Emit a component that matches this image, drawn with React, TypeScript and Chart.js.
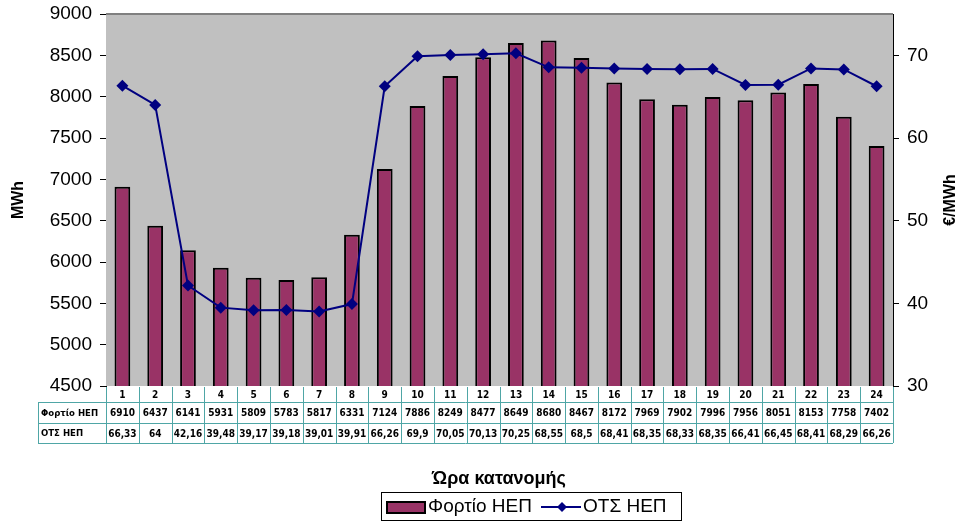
import React, { useEffect, useRef } from "react";
import { Chart, registerables } from "chart.js";

Chart.register(...registerables);

const hours = ["1","2","3","4","5","6","7","8","9","10","11","12","13","14","15","16","17","18","19","20","21","22","23","24"];
const loadMWh = [6910,6437,6141,5931,5809,5783,5817,6331,7124,7886,8249,8477,8649,8680,8467,8172,7969,7902,7996,7956,8051,8153,7758,7402];
const priceEur = [66.33,64,42.16,39.48,39.17,39.18,39.01,39.91,66.26,69.9,70.05,70.13,70.25,68.55,68.5,68.41,68.35,68.33,68.35,66.41,66.45,68.41,68.29,66.26];
const priceLabels = ["66,33","64","42,16","39,48","39,17","39,18","39,01","39,91","66,26","69,9","70,05","70,13","70,25","68,55","68,5","68,41","68,35","68,33","68,35","66,41","66,45","68,41","68,29","66,26"];
const loadName = "Φορτίο ΗΕΠ";
const priceName = "ΟΤΣ ΗΕΠ";
const leftTitle = "MWh";
const rightTitle = "€/MWh";
const xTitle = "Ώρα κατανομής";

const BAR_COLOR = "#993366";
const LINE_COLOR = "#000080";
const TABLE_BORDER = "#4fa6a6";
const TABLE_FONT = "'DejaVu Sans Condensed', 'DejaVu Sans'";

function drawDiamond(ctx: CanvasRenderingContext2D, x: number, y: number, r: number) {
  ctx.beginPath();
  ctx.moveTo(x, y - r);
  ctx.lineTo(x + r, y);
  ctx.lineTo(x, y + r);
  ctx.lineTo(x - r, y);
  ctx.closePath();
  ctx.fill();
}

const overlayPlugin = {
  id: "overlay",
  afterDraw(chart: any) {
    const ctx: CanvasRenderingContext2D = chart.ctx;
    const area = chart.chartArea;
    const xs = chart.scales.x;
    const colW = (area.right - area.left) / hours.length;
    const labelLeft = 38;
    const r0 = Math.round(area.bottom) + 1;
    const r1 = r0 + 15;
    const r2 = r1 + 21;
    const r3 = r2 + 20;
    ctx.save();
    ctx.strokeStyle = TABLE_BORDER;
    ctx.lineWidth = 1;
    ctx.beginPath();
    ctx.moveTo(labelLeft, r1 + 0.5); ctx.lineTo(area.right, r1 + 0.5);
    ctx.moveTo(labelLeft, r2 + 0.5); ctx.lineTo(area.right, r2 + 0.5);
    ctx.moveTo(labelLeft, r3 + 0.5); ctx.lineTo(area.right, r3 + 0.5);
    ctx.moveTo(labelLeft + 0.5, r1); ctx.lineTo(labelLeft + 0.5, r3);
    for (let i = 0; i <= hours.length; i++) {
      const x = Math.round(area.left + i * colW) + 0.5;
      ctx.moveTo(x, r0); ctx.lineTo(x, r3);
    }
    ctx.stroke();
    ctx.fillStyle = "#000";
    ctx.font = "bold 10px " + TABLE_FONT;
    ctx.textBaseline = "middle";
    ctx.textAlign = "center";
    for (let i = 0; i < hours.length; i++) {
      const cx = xs.getPixelForValue(i);
      ctx.fillText(hours[i], cx, (r0 + r1) / 2 + 1);
      ctx.fillText(String(loadMWh[i]), cx, (r1 + r2) / 2 + 1);
      ctx.fillText(priceLabels[i], cx, (r2 + r3) / 2 + 1);
    }
    ctx.textAlign = "left";
    ctx.font = "bold 9.5px " + TABLE_FONT;
    ctx.fillText(loadName, labelLeft + 3, (r1 + r2) / 2 + 1);
    ctx.fillText(priceName, labelLeft + 3, (r2 + r3) / 2 + 1);

    ctx.font = "bold 16px 'Liberation Sans'";
    ctx.textAlign = "center";
    ctx.save();
    ctx.translate(19, (area.top + area.bottom) / 2);
    ctx.rotate(-Math.PI / 2);
    ctx.fillText(leftTitle, 0, 0);
    ctx.restore();
    ctx.save();
    ctx.translate(951, (area.top + area.bottom) / 2);
    ctx.rotate(-Math.PI / 2);
    ctx.fillText(rightTitle, 0, 0);
    ctx.restore();

    ctx.font = "bold 18px 'Liberation Sans'";
    ctx.fillText(xTitle, 499, 479);

    // legend
    const lx = 381, ly = 492, lw = 300, lh = 28;
    ctx.strokeStyle = "#000";
    ctx.lineWidth = 1;
    ctx.strokeRect(lx + 0.5, ly + 0.5, lw, lh);
    ctx.fillStyle = BAR_COLOR;
    ctx.fillRect(387, 502, 38, 11);
    ctx.lineWidth = 2;
    ctx.strokeRect(387, 502, 38, 11);
    ctx.fillStyle = "#000";
    ctx.font = "19px 'Liberation Sans'";
    ctx.textAlign = "left";
    ctx.textBaseline = "middle";
    ctx.fillText(loadName, 428, 507);
    ctx.strokeStyle = LINE_COLOR;
    ctx.lineWidth = 2;
    ctx.beginPath();
    ctx.moveTo(541, 507); ctx.lineTo(581, 507);
    ctx.stroke();
    ctx.fillStyle = LINE_COLOR;
    drawDiamond(ctx, 562, 507, 5);
    ctx.fillStyle = "#000";
    ctx.fillText(priceName, 583, 507);
    ctx.restore();
  },
  beforeDatasetsDraw(chart: any) {
    const ctx = chart.ctx;
    const a = chart.chartArea;
    ctx.save();
    ctx.fillStyle = "#c0c0c0";
    ctx.fillRect(a.left, a.top, a.right - a.left, a.bottom - a.top);
    ctx.strokeStyle = "#808080";
    ctx.lineWidth = 2;
    ctx.beginPath();
    ctx.moveTo(a.left, a.top);
    ctx.lineTo(a.right, a.top);
    ctx.stroke();
    ctx.restore();
  },
};

export default function App() {
  const ref = useRef<HTMLCanvasElement | null>(null);
  useEffect(() => {
    if (!ref.current) return;
    const chart = new Chart(ref.current, {
      type: "bar",
      data: {
        labels: hours,
        datasets: [
          {
            type: "line",
            label: priceName,
            data: priceEur,
            yAxisID: "y1",
            borderColor: LINE_COLOR,
            backgroundColor: LINE_COLOR,
            borderWidth: 2,
            pointStyle: "rectRot",
            pointRadius: 6,
            pointBorderWidth: 0,
            pointBackgroundColor: LINE_COLOR,
            tension: 0,
            order: 0,
          } as any,
          {
            type: "bar",
            label: loadName,
            data: loadMWh,
            yAxisID: "y",
            backgroundColor: BAR_COLOR,
            borderColor: "#000",
            borderWidth: 2,
            barPercentage: 0.48,
            categoryPercentage: 1,
            order: 1,
          } as any,
        ],
      },
      options: {
        responsive: false,
        animation: false,
        layout: { padding: { top: 14, bottom: 135, left: 0, right: 0 } },
        plugins: { legend: { display: false }, tooltip: { enabled: false } },
        scales: {
          x: { display: false, offset: true },
          y: {
            position: "left",
            min: 4500,
            max: 9000,
            ticks: { stepSize: 500, color: "#000", font: { family: "'Liberation Sans'", size: 19 }, padding: 8, callback: (v: any) => String(v) },
            grid: { drawOnChartArea: false, tickLength: 6, color: "#000" },
            border: { color: "#000", width: 1 },
            afterFit: (s: any) => { s.width = 106; s.paddingTop = 0; s.paddingBottom = 0; },
          },
          y1: {
            position: "right",
            min: 30,
            max: 75,
            ticks: { stepSize: 10, includeBounds: false, color: "#000", font: { family: "'Liberation Sans'", size: 19 }, padding: 8, callback: (v: any) => String(v) },
            grid: { drawOnChartArea: false, tickLength: 6, color: "#000" },
            border: { color: "#000", width: 1 },
            afterFit: (s: any) => { s.width = 69; s.paddingTop = 0; s.paddingBottom = 0; },
          },
        },
      } as any,
      plugins: [overlayPlugin],
    });
    return () => chart.destroy();
  }, []);
  return (
    <div style={{ position: "absolute", left: 0, top: 0, width: 962, height: 521, background: "#fff" }}>
      <canvas ref={ref} width={962} height={521} />
    </div>
  );
}
